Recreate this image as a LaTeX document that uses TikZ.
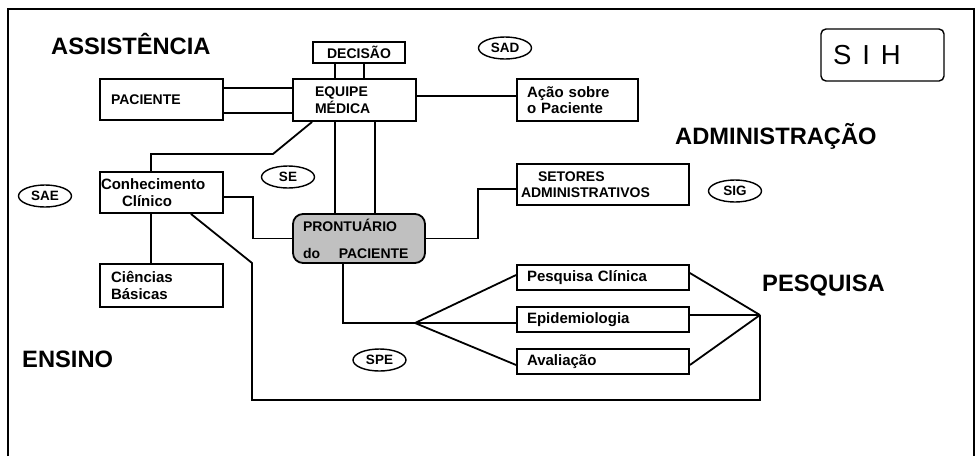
\documentclass[tikz,border=0pt]{standalone}
\usepackage{fontspec}
\setmainfont{Liberation Sans}
\usepackage{tikz}
\usetikzlibrary{shapes.geometric}
\definecolor{sih-cinza}{HTML}{C0C0C0}
\definecolor{sih-linha}{HTML}{000000}

\begin{document}
\begin{tikzpicture}[
    x=1pt, y=-1pt,
    caixa/.style={draw=sih-linha, line width=1.8pt, align=left, inner ysep=0pt, font=\bfseries\fontsize{14}{16.5}\selectfont},
    caixaM/.style={caixa, font=\bfseries\fontsize{15}{16.5}\selectfont},
    sigla/.style={draw=sih-linha, line width=1.4pt, ellipse, minimum width=53pt, minimum height=22pt, inner sep=0pt, font=\bfseries\fontsize{13.5}{14}\selectfont},
    area/.style={inner sep=0pt, anchor=base west, font=\bfseries\fontsize{23.7}{28}\selectfont},
    liga/.style={line width=1.8pt, draw=sih-linha}
]
\useasboundingbox (0,0) rectangle (977,456);

% ── Moldura ───────────────────────────────────────────────────
\draw[line width=1.8pt] (8,456) -- (8,9) -- (974,9) -- (974,456);

% ── Áreas ─────────────────────────────────────────────────────
\node[area] (assist) at (51,54) {ASSISTÊNCIA};
\node[area] (admin) at (675,144) {ADMINISTRAÇÃO};
\node[area] (ensino) at (22,367) {ENSINO};
\node[area] (pesquisa) at (762,291) {PESQUISA};

\node[draw=sih-linha, line width=1.4pt, rounded corners=5pt, minimum width=123pt, minimum height=52pt, inner xsep=12pt, text width=99pt, align=left, font=\fontsize{27.5}{30}\selectfont] (sih) at (882.5,55) {S\hspace{0.4em}I\hspace{0.4em}H};

% ── Siglas ────────────────────────────────────────────────────
\node[sigla] (sad) at (505,48) {SAD};
\node[sigla] (se) at (288,177) {SE};
\node[sigla] (sae) at (45,196) {SAE};
\node[sigla] (sig) at (735,191) {SIG};
\node[sigla] (spe) at (379.5,360) {SPE};

% ── Assistência ───────────────────────────────────────────────
\node[caixa, minimum width=92pt, minimum height=21pt, inner xsep=0pt, align=center] (decisao) at (359,52.5) {DECISÃO};
\node[caixa, text width=79pt, inner xsep=22pt, minimum height=42pt] (equipe) at (354.5,100) {EQUIPE\\MÉDICA};
\node[caixa, text width=101pt, inner xsep=11pt, minimum height=41pt] (paciente) at (161.5,99.5) {PACIENTE};
\node[caixaM, text width=101pt, inner xsep=10pt, minimum height=42pt] (acao) at (577.5,100) {Ação sobre\\o Paciente};

\draw[liga] ([xshift=-24pt]decisao.south) -- ([xshift=-19.5pt]equipe.north);
\draw[liga] ([xshift=5pt]decisao.south) -- ([xshift=9.5pt]equipe.north);
\draw[liga] ([yshift=11.5pt]paciente.east) -- ([yshift=11.5pt]paciente.east -| equipe.west);
\draw[liga] ([yshift=-13.5pt]paciente.east) -- ([yshift=-13.5pt]paciente.east -| equipe.west);
\draw[liga] ([yshift=4pt]equipe.east) -- ([yshift=4pt]equipe.east -| acao.west);

% ── Prontuário ────────────────────────────────────────────────
\node[caixa, fill=sih-cinza, rounded corners=10pt, text width=112pt, inner xsep=10pt, minimum height=49pt] (prontuario) at (359,238.5) {PRONTUÁRIO\\[10.5pt]do\quad\ PACIENTE};

\draw[liga] ([xshift=-19.5pt]equipe.south) -- ([xshift=-19.5pt]equipe.south |- prontuario.north);
\draw[liga] ([xshift=20.5pt]equipe.south) -- ([xshift=20.5pt]equipe.south |- prontuario.north);

% ── Administração ─────────────────────────────────────────────
\node[caixa, text width=164pt, inner xsep=4pt, minimum height=41pt] (setores) at (603,184.5) {\hspace*{17pt}SETORES\\ADMINISTRATIVOS};
\draw[liga] (prontuario.east) -- ++(52,0) |- ([yshift=-4.5pt]setores.west);

% ── Ensino ────────────────────────────────────────────────────
\node[caixaM, text width=121pt, inner xsep=1pt, minimum height=41pt] (conhec) at (161.5,192.5) {Conhecimento\\\hspace*{21pt}Clínico};
\node[caixaM, text width=101pt, inner xsep=11pt, minimum height=43pt] (ciencias) at (161.5,285.5) {Ciências\\Básicas};

\draw[liga] ([xshift=20pt]equipe.south west) -- ++(-39,32) -| ([xshift=-10.5pt]conhec.north);
\draw[liga] ([yshift=-4.5pt]conhec.east) -- ++(29,0) |- (prontuario.west);
\draw[liga] ([xshift=-10.5pt]conhec.south) -- ([xshift=-10.5pt]ciencias.north);

% ── Pesquisa ──────────────────────────────────────────────────
\node[caixaM, text width=152pt, inner xsep=10pt, minimum height=25pt] (pesqclin) at (603,277.5) {Pesquisa Clínica};
\node[caixaM, text width=152pt, inner xsep=10pt, minimum height=25pt] (epidem) at (603,319.5) {Epidemiologia};
\node[caixaM, text width=152pt, inner xsep=10pt, minimum height=25pt] (avaliacao) at (603,361.5) {Avaliação};

\coordinate (leque) at (415,323);
\coordinate (juncao) at (760,315);
\coordinate (canto) at (252,400);

\draw[liga] ([xshift=-16pt]prontuario.south) |- (leque);
\draw[liga] (leque) -- ([yshift=2.5pt]pesqclin.west);
\draw[liga] (leque) -- (epidem.west |- leque);
\draw[liga] (leque) -- ([yshift=-3.5pt]avaliacao.west);
\draw[liga] ([yshift=4.5pt]pesqclin.east) -- (juncao);
\draw[liga] (epidem.east |- juncao) -- (juncao);
\draw[liga] ([yshift=-3.5pt]avaliacao.east) -- (juncao);
\draw[liga] (juncao) |- (canto) -- ++(0,-137) -- ([xshift=-33pt]conhec.south east);

\end{tikzpicture}
\end{document}
